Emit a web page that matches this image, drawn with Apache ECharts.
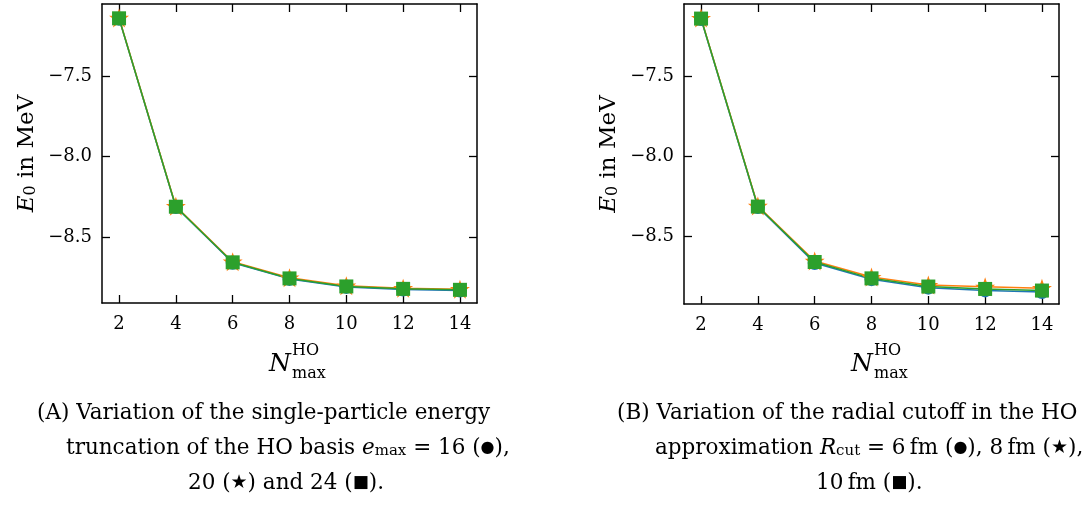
<!DOCTYPE html>
<html>
<head>
<meta charset="utf-8">
<script src="https://cdn.jsdelivr.net/npm/echarts@6/dist/echarts.min.js"></script>
<style>
html,body{margin:0;padding:0;background:#fff;}
#chart{width:1089px;height:516px;}
</style>
</head>
<body>
<div id="chart"></div>
<script>
// ---- data ----
const nmax = [2, 4, 6, 8, 10, 12, 14];
const xTicks = [2, 4, 6, 8, 10, 12, 14];
const yTicks = [-8.5, -8.0, -7.5];
// Panel A: e_max = 16, 20, 24
const aEmax16 = [-7.141, -8.313, -8.660, -8.760, -8.810, -8.826, -8.832];
const aEmax20 = [-7.137, -8.308, -8.653, -8.753, -8.803, -8.818, -8.824];
const aEmax24 = [-7.139, -8.311, -8.657, -8.757, -8.807, -8.822, -8.828];
// Panel B: R_cut = 6, 8, 10 fm
const bRcut6  = [-7.142, -8.315, -8.664, -8.765, -8.818, -8.835, -8.845];
const bRcut8  = [-7.136, -8.308, -8.652, -8.752, -8.802, -8.813, -8.822];
const bRcut10 = [-7.139, -8.312, -8.658, -8.760, -8.811, -8.826, -8.836];

const C_BLUE = '#1f77b4', C_ORANGE = '#ff7f0e', C_GREEN = '#2ca02c';
const FONT = 'DejaVu Serif';
const STAR = 'path://M50,0 L61.8,35.1 L98.1,35.1 L68.8,56.7 L79.4,91.2 L50,70 L20.6,91.2 L31.2,56.7 L1.9,35.1 L38.2,35.1 Z';

const pairs = ys => nmax.map((x, i) => [x, ys[i]]);
const fmtY = v => v.toFixed(1).replace('-', '\u2212');

function xAx(gi, pos, show) {
  return {
    type: 'value', gridIndex: gi, position: pos, min: 1.4, max: 14.6,
    axisLine: {show: true, onZero: false, lineStyle: {color: '#000', width: 1.5}},
    axisTick: {show: true, inside: true, length: 8, lineStyle: {color: '#000', width: 1.3}, customValues: xTicks},
    axisLabel: {show: show, margin: 12, fontFamily: FONT, fontSize: 18, color: '#000', customValues: xTicks},
    splitLine: {show: false}
  };
}
function yAx(gi, pos, show, min, max) {
  return {
    type: 'value', gridIndex: gi, position: pos, min: min, max: max,
    axisLine: {show: true, onZero: false, lineStyle: {color: '#000', width: 1.5}},
    axisTick: {show: true, inside: true, length: 8, lineStyle: {color: '#000', width: 1.3}, customValues: yTicks},
    axisLabel: {show: show, margin: 10, fontFamily: FONT, fontSize: 18, color: '#000', customValues: yTicks, formatter: fmtY},
    splitLine: {show: false},
    name: show ? '{e|E}{s|0}{r| in MeV}' : '',
    nameLocation: 'middle', nameRotate: 90, nameGap: 63,
    nameTextStyle: {
      fontFamily: FONT, fontSize: 23, color: '#000',
      rich: {
        e: {fontFamily: FONT, fontSize: 23, fontStyle: 'italic', color: '#000'},
        s: {fontFamily: FONT, fontSize: 16, color: '#000', verticalAlign: 'bottom', lineHeight: 13},
        r: {fontFamily: FONT, fontSize: 23, color: '#000'}
      }
    }
  };
}
function ser(name, ys, xi, yi, color, symbol, size) {
  return {
    name: name, type: 'line', xAxisIndex: xi, yAxisIndex: yi, data: pairs(ys),
    symbol: symbol, symbolSize: size, symbolKeepAspect: true,
    lineStyle: {color: color, width: 1.5}, itemStyle: {color: color},
    showSymbol: true, animation: false, z: 2
  };
}

const chart = echarts.init(document.getElementById('chart'), null, {renderer: 'canvas'});

function xLabel(cx) {
  return {
    type: 'group', children: [
      {type: 'text', x: cx - 10, y: 364, style: {text: 'N', font: 'italic 25px "' + FONT + '"', fill: '#000', textAlign: 'center', textVerticalAlign: 'middle'}},
      {type: 'text', x: cx + 2, y: 351, style: {text: 'HO', font: '16px "' + FONT + '"', fill: '#000', textAlign: 'left', textVerticalAlign: 'middle'}},
      {type: 'text', x: cx + 2, y: 374, style: {text: 'max', font: '16px "' + FONT + '"', fill: '#000', textAlign: 'left', textVerticalAlign: 'middle'}}
    ]
  };
}
const CAPFS = 21.5;
const capRich = {
  i: {fontFamily: FONT, fontSize: CAPFS, fontStyle: 'italic', color: '#000'},
  sub: {fontFamily: FONT, fontSize: 15, color: '#000', verticalAlign: 'bottom', lineHeight: 13},
  b: {fontFamily: 'DejaVu Sans', fontSize: 16, color: C_BLUE},
  o: {fontFamily: 'DejaVu Sans', fontSize: 19, color: C_ORANGE},
  g: {fontFamily: 'DejaVu Sans', fontSize: 17, color: C_GREEN}
};
function cap(x, y, txt) {
  return {type: 'text', x: x, y: y, style: {text: txt, fontFamily: FONT, fontSize: CAPFS, fill: '#000', textAlign: 'left', textVerticalAlign: 'middle', rich: capRich}};
}

chart.setOption({
  animation: false,
  backgroundColor: '#fff',
  grid: [
    {left: 102, top: 4, width: 375, height: 299},
    {left: 684, top: 4, width: 375, height: 300}
  ],
  xAxis: [xAx(0, 'bottom', true), xAx(0, 'top', false), xAx(1, 'bottom', true), xAx(1, 'top', false)],
  yAxis: [yAx(0, 'left', true, -8.91, -7.05), yAx(0, 'right', false, -8.91, -7.05),
          yAx(1, 'left', true, -8.92, -7.048), yAx(1, 'right', false, -8.92, -7.048)],
  series: [
    ser('e_max = 16', aEmax16, 0, 0, C_BLUE, 'circle', 14),
    ser('e_max = 20', aEmax20, 0, 0, C_ORANGE, STAR, 20),
    ser('e_max = 24', aEmax24, 0, 0, C_GREEN, 'rect', 14),
    ser('R_cut = 6 fm', bRcut6, 2, 2, C_BLUE, 'circle', 14),
    ser('R_cut = 8 fm', bRcut8, 2, 2, C_ORANGE, STAR, 20),
    ser('R_cut = 10 fm', bRcut10, 2, 2, C_GREEN, 'rect', 14)
  ],
  graphic: [
    xLabel(290), xLabel(872),
    cap(37, 413, '(A) Variation of the single-particle energy'),
    cap(66, 448, 'truncation of the HO basis {i|e}{sub|max} = 16 ({b|\u25CF}),'),
    cap(188, 483, '20 ({o|\u2605}) and 24 ({g|\u25A0}).'),
    cap(617, 413, '(B) Variation of the radial cutoff in the HO'),
    cap(655, 448, 'approximation {i|R}{sub|cut} = 6\u2009fm ({b|\u25CF}), 8\u2009fm ({o|\u2605}),'),
    cap(816, 483, '10\u2009fm ({g|\u25A0}).')
  ]
});
</script>
</body>
</html>
